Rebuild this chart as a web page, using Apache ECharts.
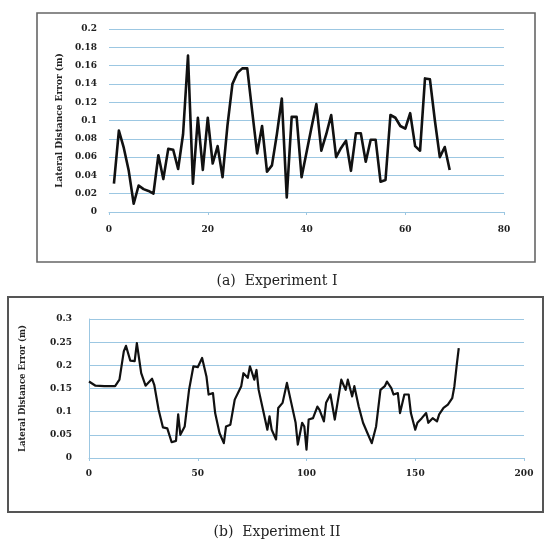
<!DOCTYPE html>
<html>
<head>
<meta charset="utf-8">
<script src="https://cdn.jsdelivr.net/npm/echarts@6/dist/echarts.min.js"></script>
<style>
html,body{margin:0;padding:0;background:#fff;}
#c{width:546px;height:543px;}
</style>
</head>
<body>
<div id="c"></div>
<script>
// Experiment I (top chart)
const expIx = [1,2,3,4,5,6,7,8,9,10,11,12,13,14,15,16,17,18,19,20,21,22,23,24,25,26,27,28,29,30,31,32,33,34,35,36,37,38,39,40,41,42,43,44,45,46,47,48,49,50,51,52,53,54,55,56,57,58,59,60,61,62,63,64,65,66,67,68,69];
const expIy = [0.031,0.089,0.07,0.045,0.009,0.029,0.025,0.023,0.020,0.062,0.036,0.069,0.068,0.047,0.085,0.171,0.031,0.103,0.046,0.103,0.053,0.072,0.038,0.095,0.14,0.152,0.157,0.157,0.11,0.064,0.094,0.044,0.051,0.085,0.124,0.016,0.104,0.104,0.038,0.065,0.092,0.118,0.067,0.085,0.106,0.060,0.07,0.078,0.045,0.086,0.086,0.055,0.079,0.079,0.033,0.035,0.106,0.103,0.094,0.091,0.108,0.072,0.067,0.146,0.145,0.1,0.060,0.071,0.046];
// Experiment II (bottom chart)
const expIIx = [0,3,7,12,14,16,17,19,21,22,24,26,29,30,32,34,36,38,40,41,42,44,46,48,50,52,54,55,57,58,60,62,63,65,67,70,71,73,74,76,77,78,80,82,83,84,86,87,89,91,93,95,96,98,99,100,101,103,105,106,108,109,111,113,115,116,118,119,121,122,124,126,128,130,132,134,136,137,139,140,142,143,145,147,148,150,151,153,155,156,158,160,161,163,165,167,168,169,170];
const expIIy = [0.165,0.156,0.155,0.155,0.169,0.23,0.242,0.21,0.209,0.248,0.183,0.156,0.171,0.158,0.104,0.066,0.064,0.034,0.037,0.094,0.05,0.068,0.147,0.198,0.196,0.216,0.176,0.137,0.14,0.097,0.054,0.032,0.068,0.072,0.126,0.155,0.183,0.173,0.198,0.169,0.19,0.147,0.104,0.061,0.09,0.061,0.04,0.108,0.119,0.162,0.119,0.076,0.029,0.076,0.068,0.018,0.083,0.086,0.111,0.104,0.079,0.119,0.137,0.083,0.14,0.169,0.147,0.169,0.133,0.155,0.111,0.076,0.054,0.032,0.068,0.147,0.155,0.165,0.151,0.137,0.14,0.097,0.137,0.137,0.097,0.061,0.076,0.086,0.097,0.076,0.086,0.079,0.094,0.108,0.115,0.129,0.155,0.198,0.237];
const topXTicks = [0,20,40,60,80];
const botXTicks = [0,50,100,150,200];
const yName = 'Lateral Distance Error (m)';
const captionA = '(a)  Experiment I';
const captionB = '(b)  Experiment II';

const pairs = (xs, ys) => xs.map((x, i) => [x, ys[i]]);
const FONT = '"DejaVu Serif", "Liberation Serif", serif';
const gridColor = '#9cc7e2';
const lbl = {fontFamily: FONT, fontSize: 9, fontWeight: 'bold', color: '#222'};

const chart = echarts.init(document.getElementById('c'), null, {renderer: 'canvas'});
chart.setOption({
  animation: false,
  backgroundColor: '#fff',
  grid: [
    {left: 109, right: 42, top: 29, bottom: 331, containLabel: false},
    {left: 89, right: 22, top: 319, bottom: 85, containLabel: false}
  ],
  xAxis: [
    {gridIndex: 0, type: 'value', min: 0, max: 80, interval: 20,
     axisLine: {show: true, lineStyle: {color: gridColor}},
     axisTick: {show: true, length: 3, lineStyle: {color: gridColor}},
     splitLine: {show: false},
     axisLabel: Object.assign({margin: 13, fontSize: 10}, lbl)},
    {gridIndex: 1, type: 'value', min: 0, max: 200, interval: 50,
     axisLine: {show: true, lineStyle: {color: gridColor}},
     axisTick: {show: true, length: 3, lineStyle: {color: gridColor}},
     splitLine: {show: false},
     axisLabel: Object.assign({margin: 11}, lbl)}
  ],
  yAxis: [
    {gridIndex: 0, type: 'value', min: 0, max: 0.2, interval: 0.02,
     axisLine: {show: false}, axisTick: {show: false},
     splitLine: {show: true, lineStyle: {color: gridColor, width: 1.2}},
     axisLabel: Object.assign({margin: 12}, lbl),
     name: yName, nameLocation: 'middle', nameGap: 38, nameRotate: 90,
     nameTextStyle: {fontFamily: FONT, fontSize: 9, fontWeight: 'bold', color: '#222'}},
    {gridIndex: 1, type: 'value', min: 0, max: 0.3, interval: 0.05,
     axisLine: {show: true, lineStyle: {color: gridColor}}, axisTick: {show: false},
     splitLine: {show: true, lineStyle: {color: gridColor, width: 1.2}},
     axisLabel: Object.assign({margin: 17}, lbl),
     name: yName, nameLocation: 'middle', nameGap: 62, nameRotate: 90,
     nameTextStyle: {fontFamily: FONT, fontSize: 8.5, fontWeight: 'bold', color: '#222'}}
  ],
  series: [
    {type: 'line', xAxisIndex: 0, yAxisIndex: 0, data: pairs(expIx, expIy),
     showSymbol: false, lineStyle: {color: '#111', width: 2.6, join: 'round'}},
    {type: 'line', xAxisIndex: 1, yAxisIndex: 1, data: pairs(expIIx, expIIy),
     showSymbol: false, lineStyle: {color: '#111', width: 2.2, join: 'round'}}
  ],
  graphic: [
    {type: 'rect', shape: {x: 37, y: 13, width: 498, height: 249}, z: -1,
     style: {fill: 'none', stroke: '#666', lineWidth: 1.6}},
    {type: 'rect', shape: {x: 8, y: 297, width: 535, height: 215}, z: -1,
     style: {fill: 'none', stroke: '#555', lineWidth: 2}},
    {type: 'text', x: 277, y: 281, style: {text: captionA, fontFamily: FONT, fontSize: 14, fill: '#222', textAlign: 'center', textVerticalAlign: 'middle'}},
    {type: 'text', x: 277, y: 532, style: {text: captionB, fontFamily: FONT, fontSize: 14, fill: '#222', textAlign: 'center', textVerticalAlign: 'middle'}}
  ]
});
</script>
</body>
</html>
